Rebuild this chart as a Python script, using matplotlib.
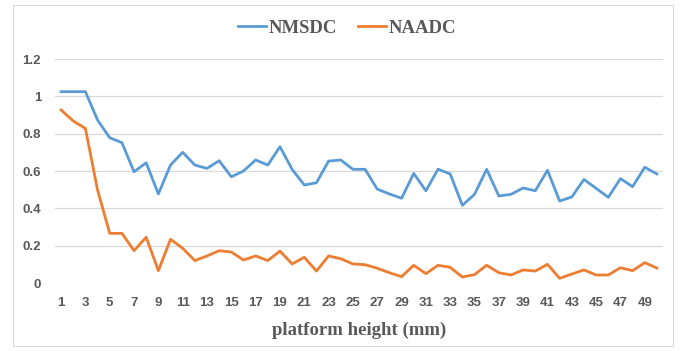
import matplotlib.pyplot as plt
from matplotlib.patches import Rectangle

# platform height index 1..50
heights = list(range(1, 51))

nmsdc = [1.025, 1.025, 1.025, 0.873, 0.778, 0.752, 0.596, 0.644, 0.477, 0.632,
         0.700, 0.632, 0.614, 0.655, 0.569, 0.600, 0.659, 0.632, 0.730, 0.609,
         0.525, 0.537, 0.653, 0.659, 0.609, 0.609, 0.503, 0.477, 0.454, 0.587,
         0.494, 0.610, 0.584, 0.416, 0.475, 0.609, 0.466, 0.475, 0.509, 0.494,
         0.604, 0.439, 0.461, 0.555, 0.507, 0.459, 0.559, 0.516, 0.620, 0.584]

naadc = [0.927, 0.868, 0.828, 0.498, 0.266, 0.266, 0.173, 0.245, 0.066, 0.234,
         0.186, 0.120, 0.145, 0.173, 0.166, 0.123, 0.145, 0.120, 0.171, 0.102,
         0.138, 0.064, 0.145, 0.130, 0.102, 0.098, 0.079, 0.055, 0.034, 0.095,
         0.050, 0.095, 0.084, 0.032, 0.045, 0.095, 0.055, 0.043, 0.070, 0.064,
         0.100, 0.025, 0.048, 0.070, 0.043, 0.043, 0.082, 0.066, 0.109, 0.080]

yticks = [0, 0.2, 0.4, 0.6, 0.8, 1, 1.2]
ytick_labels = ["0", "0.2", "0.4", "0.6", "0.8", "1", "1.2"]
xticks = list(range(1, 51, 2))

grey = "#595959"

fig = plt.figure(figsize=(6.81, 3.51), dpi=100)
fig.patches.append(Rectangle((13 / 681, 5 / 351), 660 / 681, 341 / 351,
                             transform=fig.transFigure, fill=False,
                             edgecolor="#D9D9D9", linewidth=0.75))

ax = fig.add_axes([55 / 681, 1 - 283 / 351, 608 / 681, 224 / 351])
ax.plot(heights, nmsdc, color="#5B9BD5", linewidth=2.0, label="NMSDC")
ax.plot(heights, naadc, color="#ED7D31", linewidth=2.0, label="NAADC")

ax.set_xlim(0.5, 50.5)
ax.set_ylim(0, 1.2)
ax.set_yticks(yticks)
ax.set_yticklabels(ytick_labels)
ax.set_xticks(xticks)
ax.grid(axis="y", color="#D9D9D9", linewidth=0.9)
ax.set_axisbelow(True)
for s in ax.spines.values():
    s.set_visible(False)
ax.tick_params(length=0, pad=10, labelsize=9.5, labelcolor=grey)
for lab in ax.get_xticklabels() + ax.get_yticklabels():
    lab.set_fontweight("bold")
    lab.set_family("Liberation Sans")
ax.tick_params(axis="x", pad=10)

ax.set_xlabel("platform height (mm)", fontsize=13.5, fontweight="bold",
              family="Liberation Serif", color=grey, labelpad=9)

leg = fig.legend(loc="center", bbox_to_anchor=(347 / 681, 1 - 28 / 351), ncol=2,
                 frameon=False, handlelength=1.5, handletextpad=0.15,
                 columnspacing=1.1,
                 prop={"family": "Liberation Serif", "weight": "bold", "size": 13.5})
for t in leg.get_texts():
    t.set_color(grey)

fig.savefig("out.png", dpi=100)
